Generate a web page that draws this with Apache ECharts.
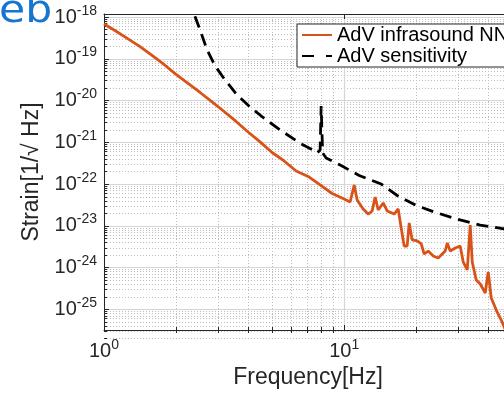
<!DOCTYPE html>
<html><head><meta charset="utf-8">
<script src="https://cdn.jsdelivr.net/npm/echarts@6/dist/echarts.min.js"></script>
<style>html,body{margin:0;padding:0;background:#fff}#c{width:504px;height:395px}</style>
</head><body><div id="c"></div>
<script>
// Frequency [Hz] and strain [1/sqrt(Hz)] of the infrasound Newtonian-noise curve
const freqNN = [1.000, 1.111, 1.259, 1.413, 1.585, 1.778, 1.995, 2.239, 2.512, 2.818, 3.162, 3.548, 3.981, 4.467, 5.012, 5.623, 6.310, 7.079, 7.943, 8.913, 10.00, 10.59, 11.01, 11.33, 12.00, 12.59, 13.08, 13.46, 13.86, 14.54, 15.11, 16.16, 16.79, 17.28, 17.78, 18.30, 18.66, 19.20, 20.15, 20.94, 21.54, 22.39, 23.49, 24.65, 25.61, 26.36, 26.87, 27.66, 29.01, 30.43, 31.32, 32.55, 33.50, 34.15, 35.48, 36.87, 38.68, 39.81, 40.98, 42.99, 45.10, 47.32, 54.1];
const strainNN = [6.87e-19, 4.80e-19, 3.01e-19, 1.97e-19, 1.21e-19, 7.36e-20, 4.25e-20, 2.58e-20, 1.57e-20, 9.31e-21, 5.51e-21, 3.18e-21, 1.78e-21, 1.03e-21, 5.74e-22, 3.60e-22, 2.07e-22, 1.53e-22, 9.57e-23, 5.98e-23, 4.42e-23, 3.75e-23, 9.57e-23, 4.19e-23, 2.55e-23, 1.93e-23, 2.28e-23, 4.93e-23, 2.41e-23, 3.55e-23, 2.28e-23, 1.93e-23, 2.55e-23, 8.93e-24, 3.31e-24, 3.31e-24, 1.18e-23, 4.61e-24, 4.36e-24, 3.70e-24, 2.13e-24, 2.51e-24, 1.91e-24, 1.71e-24, 2.13e-24, 2.51e-24, 3.91e-24, 2.51e-24, 2.96e-24, 3.31e-24, 1.37e-24, 8.81e-25, 1.05e-23, 1.37e-24, 5.07e-25, 4.07e-25, 2.48e-25, 7.89e-25, 1.88e-25, 9.70e-26, 5.58e-26, 2.88e-26, 1.0e-26];

// AdV sensitivity curve
const freqSens = [2.282, 2.371, 2.512, 2.687, 2.901, 3.193, 3.583, 4.058, 4.597, 5.412, 6.556, 7.425, 7.72, 7.943, 8.02, 8.137, 8.414, 9.624, 11.55, 14.26, 16.63, 19.95, 23.71, 29.85, 36.87, 45.10, 59.6];
const strainSens = [2.88e-18, 1.19e-18, 4.93e-19, 1.64e-19, 6.78e-20, 3.13e-20, 1.37e-20, 7.06e-21, 3.96e-21, 1.99e-21, 9.54e-22, 6.59e-22, 5.56e-22, 6.59e-22, 7.46e-21, 5.59e-22, 4.25e-22, 2.88e-22, 1.62e-22, 1.01e-22, 5.36e-23, 3.09e-23, 2.16e-23, 1.43e-23, 1.05e-23, 8.69e-24, 7.57e-24];

const seriesNames = ['AdV infrasound NN', 'AdV sensitivity'];
const xMajorTicks = [1, 10, 100];
const xMinorTicks = [2, 3, 4, 5, 6, 7, 8, 9, 20, 30, 40, 50];
const yMajorTicks = [1e-25, 1e-24, 1e-23, 1e-22, 1e-21, 1e-20, 1e-19, 1e-18];
const yMinorTicks = [];
for (let e = -26; e <= -19; e++) for (let k = 2; k <= 9; k++) yMinorTicks.push(k * Math.pow(10, e));

const X_MIN = 1, X_MAX = 50;
const Y_MIN = 3.22e-26, Y_MAX = 1.19e-18;

const FONT = '"Liberation Sans", Arial, Helvetica, sans-serif';
const INK = '#262626';
const rich = {
  b: { fontSize: 20, fontFamily: FONT, color: INK },
  s: { fontSize: 14, fontFamily: FONT, color: INK, padding: [0, 0, 13, 0] }
};
const supFmt = v => '{b|10}{s|' + Math.round(Math.log10(v)) + '}';

const chart = echarts.init(document.getElementById('c'), null, { renderer: 'canvas' });
chart.setOption({
  animation: false,
  backgroundColor: '#fff',
  graphic: [{
    type: 'text', left: -1, top: -6, scaleX: 1.15,
    style: { text: 'eb', font: '37px "DejaVu Sans"', fill: '#1575cf' }
  }],
  grid: { left: 104, top: 14, right: -8, bottom: 65, outerBoundsMode: 'none', containLabel: false },
  legend: {
    data: [
      { name: seriesNames[0] },
      { name: seriesNames[1], lineStyle: { type: [12, 12] } }
    ],
    orient: 'vertical', left: 297, top: 24,
    backgroundColor: '#fff', borderColor: INK, borderWidth: 1,
    padding: [1, 20, 1, 4], itemGap: 1, itemWidth: 30, itemHeight: 14,
    itemStyle: { opacity: 0 },
    textStyle: { fontSize: 20, fontFamily: FONT, color: '#000' }
  },
  xAxis: [
    { type: 'log', min: X_MIN, max: X_MAX, position: 'bottom',
      name: 'Frequency[Hz]', nameLocation: 'middle', nameGap: 35,
      nameTextStyle: { fontSize: 23, fontFamily: FONT, color: INK },
      axisLine: { show: true, onZero: false, lineStyle: { color: INK, width: 1 } },
      axisTick: { show: true, inside: true, length: 5, customValues: xMajorTicks, lineStyle: { color: INK } },
      axisLabel: { show: true, customValues: xMajorTicks, formatter: supFmt, rich: rich, margin: 8 },
      splitLine: { show: true, lineStyle: { color: '#d6d6d6', width: 1.2 } } },
    { type: 'log', min: X_MIN, max: X_MAX, position: 'bottom',
      axisLine: { show: false },
      axisTick: { show: true, inside: true, length: 3, customValues: xMinorTicks, lineStyle: { color: INK } },
      axisLabel: { show: false },
      splitLine: { show: true, lineStyle: { color: '#bdbdbd', width: 1, type: [1, 2] } } },
    { type: 'log', min: X_MIN, max: X_MAX, position: 'top',
      axisLine: { show: true, onZero: false, lineStyle: { color: INK, width: 1 } },
      axisTick: { show: true, inside: true, length: 5, customValues: xMajorTicks, lineStyle: { color: INK } },
      axisLabel: { show: false }, splitLine: { show: false } },
    { type: 'log', min: X_MIN, max: X_MAX, position: 'top',
      axisLine: { show: false },
      axisTick: { show: true, inside: true, length: 3, customValues: xMinorTicks, lineStyle: { color: INK } },
      axisLabel: { show: false }, splitLine: { show: false } }
  ],
  yAxis: [
    { type: 'log', min: Y_MIN, max: Y_MAX, position: 'left',
      name: 'Strain[1/\u221A Hz]', nameLocation: 'middle', nameGap: 60,
      nameTextStyle: { fontSize: 23, fontFamily: FONT, color: INK },
      axisLine: { show: true, onZero: false, lineStyle: { color: INK, width: 1 } },
      axisTick: { show: true, inside: true, length: 5, customValues: yMajorTicks, lineStyle: { color: INK } },
      axisLabel: { show: true, customValues: yMajorTicks, formatter: supFmt, rich: rich, margin: 7 },
      splitLine: { show: true, lineStyle: { color: '#d6d6d6', width: 1.2 } } },
    { type: 'log', min: Y_MIN, max: Y_MAX, position: 'left',
      axisLine: { show: false },
      axisTick: { show: true, inside: true, length: 3, customValues: yMinorTicks, lineStyle: { color: INK } },
      axisLabel: { show: false },
      splitLine: { show: true, lineStyle: { color: '#bdbdbd', width: 1, type: [1, 2] } } }
  ],
  series: [
    { name: seriesNames[0], type: 'line', xAxisIndex: 0, yAxisIndex: 0,
      data: freqNN.map((f, i) => [f, strainNN[i]]),
      showSymbol: false, symbol: 'none', clip: true, z: 3,
      itemStyle: { color: '#D95319' },
      lineStyle: { color: '#D95319', width: 2.8 } },
    { name: seriesNames[1], type: 'line', xAxisIndex: 0, yAxisIndex: 0,
      data: freqSens.map((f, i) => [f, strainSens[i]]),
      showSymbol: false, symbol: 'none', clip: true, z: 4,
      itemStyle: { color: '#000' },
      lineStyle: { color: '#000', width: 2.8, type: [12, 7] } }
  ]
});
</script></body></html>
